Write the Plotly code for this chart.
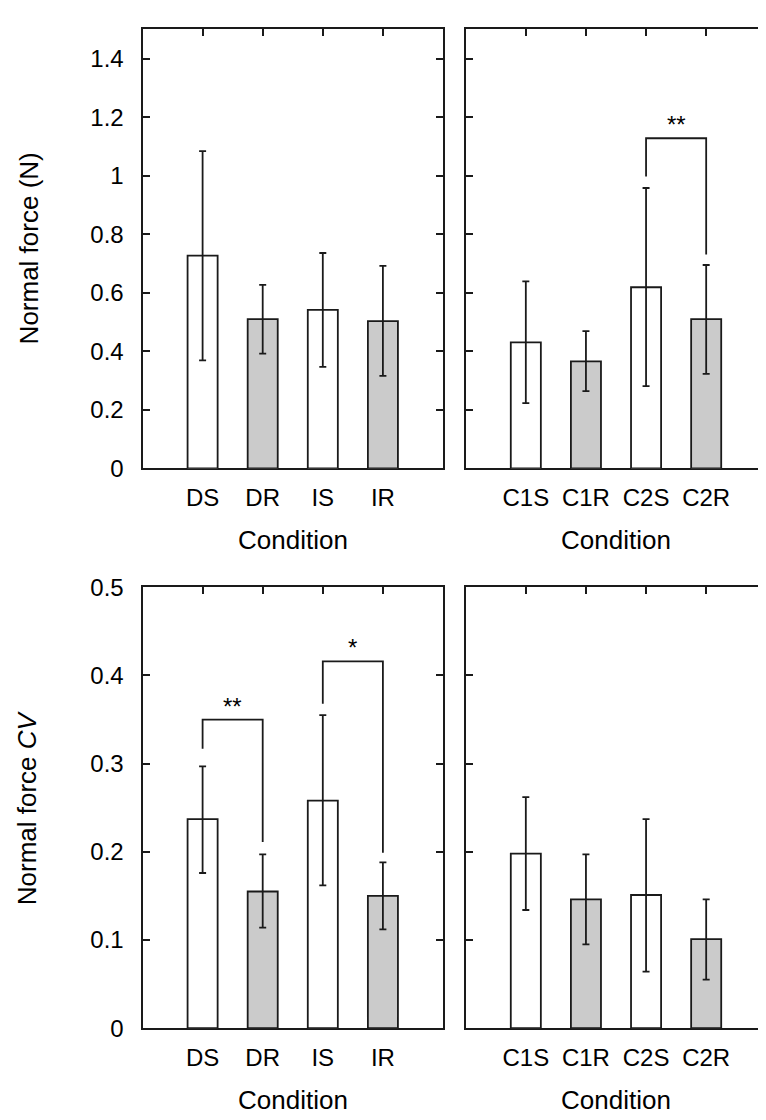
import plotly.graph_objects as go

# ---------------- data ----------------
cats_left = ["DS", "DR", "IS", "IR"]
cats_right = ["C1S", "C1R", "C2S", "C2R"]

force_left_mean = [0.727, 0.510, 0.542, 0.503]
force_left_upper = [1.084, 0.627, 0.736, 0.692]
force_left_lower = [0.369, 0.392, 0.347, 0.316]

force_right_mean = [0.431, 0.366, 0.619, 0.510]
force_right_upper = [0.639, 0.469, 0.958, 0.695]
force_right_lower = [0.223, 0.264, 0.281, 0.323]

cv_left_mean = [0.237, 0.155, 0.258, 0.150]
cv_left_upper = [0.297, 0.197, 0.355, 0.188]
cv_left_lower = [0.176, 0.114, 0.162, 0.112]

cv_right_mean = [0.198, 0.146, 0.151, 0.101]
cv_right_upper = [0.262, 0.197, 0.237, 0.146]
cv_right_lower = [0.134, 0.095, 0.064, 0.055]

# significance brackets: (panel, from idx, to idx, top y, left end y, right end y, label)
brackets = [
    ("force_right", 2, 3, 1.128, 0.997, 0.731, "**"),
    ("cv_left", 0, 1, 0.350, 0.317, 0.211, "**"),
    ("cv_left", 2, 3, 0.416, 0.368, 0.199, "*"),
]

bar_fills = ["#ffffff", "#cbcbcb", "#ffffff", "#cbcbcb"]
LINE = "#1a1a1a"
FONT = "Liberation Sans, Arial, sans-serif"

W, H = 766, 1120
px = lambda a, b: [a / W, b / W]
py = lambda top, bot: [(H - bot) / H, (H - top) / H]

panels = {
    "force_left": dict(xa="x", ya="y", cats=cats_left, mean=force_left_mean,
                       up=force_left_upper, lo=force_left_lower,
                       xdom=px(134.5, 435.0), ydom=py(7.5, 457.5),
                       yrange=[0, 1.5], ytick=[0, 0.2, 0.4, 0.6, 0.8, 1.0, 1.2, 1.4],
                       labels=True),
    "force_right": dict(xa="x2", ya="y2", cats=cats_right, mean=force_right_mean,
                        up=force_right_upper, lo=force_right_lower,
                        xdom=px(457.7, 758.3), ydom=py(7.5, 457.5),
                        yrange=[0, 1.5], ytick=[0, 0.2, 0.4, 0.6, 0.8, 1.0, 1.2, 1.4],
                        labels=False),
    "cv_left": dict(xa="x3", ya="y3", cats=cats_left, mean=cv_left_mean,
                    up=cv_left_upper, lo=cv_left_lower,
                    xdom=px(134.5, 435.0), ydom=py(579.3, 1031.0),
                    yrange=[0, 0.5], ytick=[0, 0.1, 0.2, 0.3, 0.4, 0.5],
                    labels=True),
    "cv_right": dict(xa="x4", ya="y4", cats=cats_right, mean=cv_right_mean,
                     up=cv_right_upper, lo=cv_right_lower,
                     xdom=px(457.7, 758.3), ydom=py(579.3, 1031.0),
                     yrange=[0, 0.5], ytick=[0, 0.1, 0.2, 0.3, 0.4, 0.5],
                     labels=False),
}

fig = go.Figure()
layout = dict(width=W, height=H, margin=dict(l=0, r=0, t=0, b=0),
              paper_bgcolor="white", plot_bgcolor="white", showlegend=False,
              font=dict(family=FONT, color="black"))
annotations = []

for name, p in panels.items():
    idx = list(range(len(p["cats"])))
    fig.add_trace(go.Bar(
        x=idx, y=p["mean"], width=0.5,
        marker=dict(color=bar_fills, line=dict(color=LINE, width=1.8)),
        error_y=dict(type="data", symmetric=False,
                     array=[u - m for u, m in zip(p["up"], p["mean"])],
                     arrayminus=[m - l for m, l in zip(p["mean"], p["lo"])],
                     color=LINE, thickness=1.8, width=3.5),
        xaxis=p["xa"], yaxis=p["ya"], hoverinfo="skip"))
    xkey = "xaxis" + p["xa"][1:]
    ykey = "yaxis" + p["ya"][1:]
    layout[xkey] = dict(domain=p["xdom"], anchor=p["ya"], range=[-1, 4],
                        tickvals=idx, ticktext=p["cats"], ticks="inside", ticklen=7,
                        tickwidth=1.8, tickcolor=LINE, showline=True, linecolor=LINE,
                        linewidth=2, mirror="ticks", showgrid=False, zeroline=False,
                        layer="below traces", fixedrange=True,
                        tickfont=dict(size=24, family=FONT, color="black"),
                        ticklabelstandoff=7)
    layout[ykey] = dict(domain=p["ydom"], anchor=p["xa"], range=p["yrange"],
                        tickvals=p["ytick"], ticks="inside", ticklen=7, tickwidth=1.8,
                        tickcolor=LINE, showline=True, linecolor=LINE, linewidth=2,
                        mirror="ticks", showgrid=False, zeroline=False,
                        showticklabels=p["labels"], fixedrange=True,
                        tickfont=dict(size=24, family=FONT, color="black"),
                        ticklabelstandoff=12)
    # x axis title
    annotations.append(dict(text="Condition", xref=p["xa"] + " domain", yref=p["ya"] + " domain",
                            x=0.5, y=0, xanchor="center", yanchor="middle", yshift=-72,
                            showarrow=False, font=dict(size=26, family=FONT, color="black")))

# y axis titles
annotations.append(dict(text="Normal force (N)", xref="x domain", yref="y domain",
                        x=0, y=0.5, xanchor="center", yanchor="middle", xshift=-114,
                        textangle=-90, showarrow=False,
                        font=dict(size=26, family=FONT, color="black")))
annotations.append(dict(text="Normal force <i>CV</i>", xref="x3 domain", yref="y3 domain",
                        x=0, y=0.5, xanchor="center", yanchor="middle", xshift=-116,
                        textangle=-90, showarrow=False,
                        font=dict(size=26, family=FONT, color="black")))

# significance brackets
for pname, a, b, top, lend, rend, lab in brackets:
    p = panels[pname]
    fig.add_trace(go.Scatter(x=[a, a, b, b], y=[lend, top, top, rend], mode="lines",
                             line=dict(color=LINE, width=1.8), xaxis=p["xa"], yaxis=p["ya"],
                             hoverinfo="skip"))
    annotations.append(dict(text=lab, x=(a + b) / 2, y=top, xref=p["xa"], yref=p["ya"],
                            xanchor="center", yanchor="bottom", yshift=-2, showarrow=False,
                            font=dict(size=24, family=FONT, color="black")))

layout["annotations"] = annotations
fig.update_layout(**layout)
fig.write_html("out.html")
